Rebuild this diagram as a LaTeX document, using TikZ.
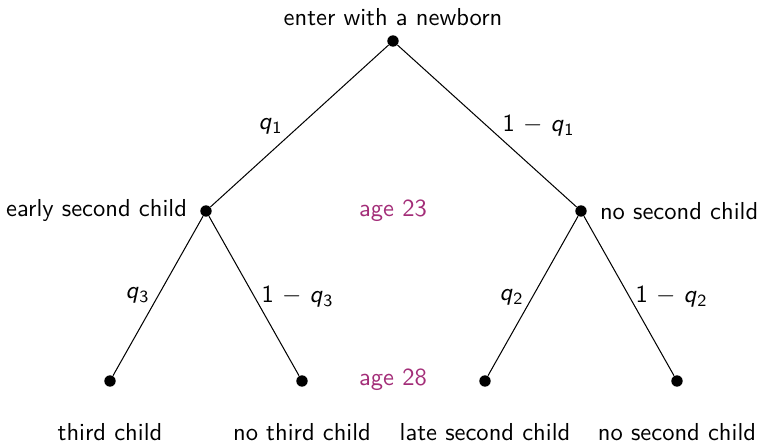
\documentclass[tikz,border=0pt]{standalone}
\usepackage{xcolor}
\definecolor{agecol}{RGB}{163,45,120}
\newcommand{\probq}[1]{\textit{q}\kern0.3pt\raisebox{-0.35ex}{\fontsize{7.5}{8}\selectfont #1}}
\newcommand{\probnq}[1]{1 $-$ \probq{#1}}
\begin{document}
\begin{tikzpicture}[x=0.44pt,y=-0.44pt,
  every node/.style={font=\fontsize{10.8}{13}\selectfont\sffamily},
  dot/.style={circle,fill=black,inner sep=0pt,minimum size=5pt},
  branch/.style={draw=black,line width=0.45pt},
  agelbl/.style={text=agecol}]
\useasboundingbox (0,0) rectangle (757,442);
% tree nodes
\node[dot] (root) at (393,41) {};
\node[dot] (early) at (206,211) {};
\node[dot] (nosec) at (581,211) {};
\node[dot] (third) at (110,381) {};
\node[dot] (nothird) at (302,381) {};
\node[dot] (late) at (485,381) {};
\node[dot] (never) at (677,381) {};
% branches
\draw[branch] (root) -- (early);
\draw[branch] (root) -- (nosec);
\draw[branch] (early) -- (third);
\draw[branch] (early) -- (nothird);
\draw[branch] (nosec) -- (late);
\draw[branch] (nosec) -- (never);
% state labels
\node (tRoot) at (393,17) {enter with a newborn};
\node[anchor=east] (tEarly) at (195,211) {early second child};
\node[anchor=west] (tNosec) at (592,211) {no second child};
\node (tThird) at (110,432) {third child};
\node (tNothird) at (302,432) {no third child};
\node (tLate) at (485,432) {late second child};
\node (tNever) at (677,432) {no second child};
% ages
\node[agelbl] (age1) at (393,211) {age 23};
\node[agelbl] (age2) at (393,380) {age 28};
% probabilities
\node (p1) at (270,126) {\probq{1}};
\node (p2) at (538,126) {\probnq{1}};
\node (p3) at (137,295) {\probq{3}};
\node (p4) at (297,297) {\probnq{3}};
\node (p5) at (511,297) {\probq{2}};
\node (p6) at (671,297) {\probnq{2}};
\end{tikzpicture}
\end{document}
